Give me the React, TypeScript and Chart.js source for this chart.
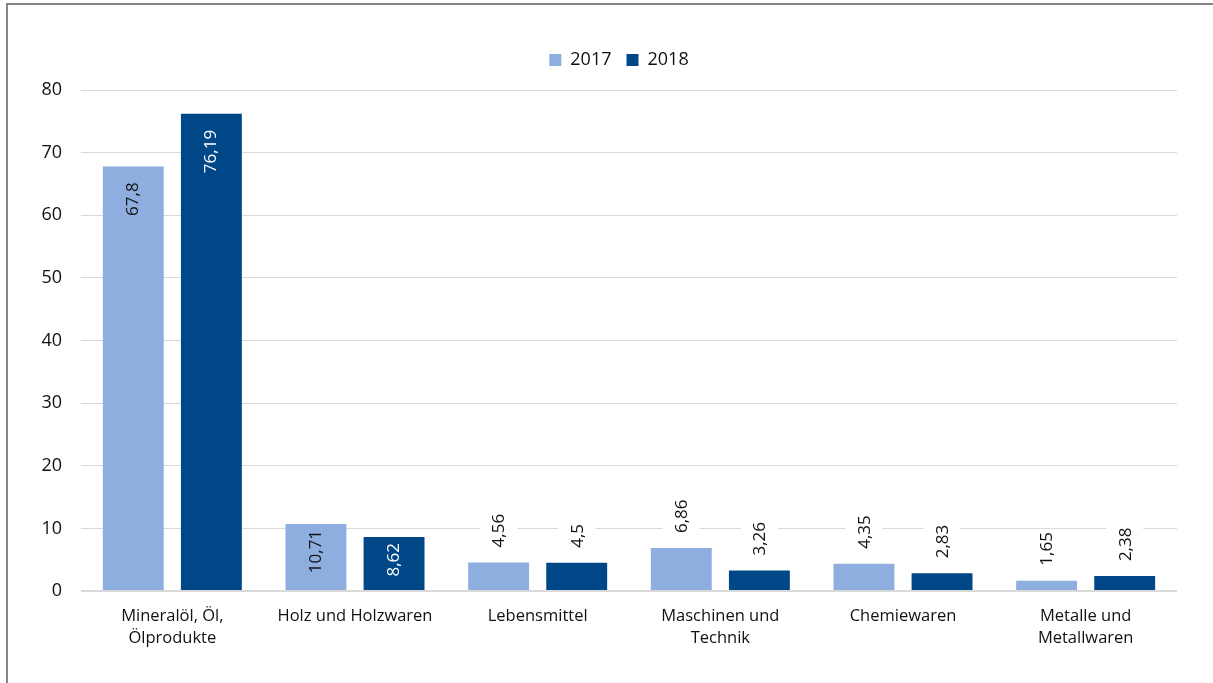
import React, { useEffect, useRef } from 'react';
import { Chart, registerables } from 'chart.js';

Chart.register(...registerables);

const categories: (string | string[])[] = [
  ['Mineralöl, Öl,', 'Ölprodukte'],
  'Holz und Holzwaren',
  'Lebensmittel',
  ['Maschinen und', 'Technik'],
  'Chemiewaren',
  ['Metalle und', 'Metallwaren'],
];
const seriesNames = ['2017', '2018'];
const values2017 = [67.8, 10.71, 4.56, 6.86, 4.35, 1.65];
const values2018 = [76.19, 8.62, 4.5, 3.26, 2.83, 2.38];
const yMin = 0;
const yMax = 80;
const yStep = 10;

const COLOR_2017 = '#8EAEE0';
const COLOR_2018 = '#004788';
const FONT = '"Open Sans", "Noto Sans", sans-serif';

const legendSpacing = {
  id: 'legendSpacing',
  beforeInit(chart: any) {
    const legend = chart.legend;
    if (!legend) return;
    const orig = legend.fit;
    legend.fit = function () {
      orig.call(this);
      this.height = 54;
    };
  },
  afterLayout(chart: any) {
    const legend = chart.legend;
    if (!legend) return;
    legend.left += 18;
    legend.right += 18;
  },
};

const barLabels = {
  id: 'barLabels',
  afterDatasetsDraw(chart: any) {
    const ctx = chart.ctx as CanvasRenderingContext2D;
    const fs = 17;
    chart.data.datasets.forEach((ds: any, di: number) => {
      const meta = chart.getDatasetMeta(di);
      meta.data.forEach((bar: any, i: number) => {
        const v = ds.data[i] as number;
        const text = String(v).replace('.', ',');
        const { x, y, base } = bar.getProps(['x', 'y', 'base'], true);
        const h = base - y;
        ctx.save();
        ctx.font = `${fs}px ${FONT}`;
        const w = ctx.measureText(text).width;
        ctx.textBaseline = 'middle';
        if (h > w + 14) {
          const pad = h > 150 ? 16 : 6;
          ctx.translate(x, y + pad);
          ctx.rotate(-Math.PI / 2);
          ctx.textAlign = 'right';
          ctx.fillStyle = di === 0 ? '#111111' : '#ffffff';
          ctx.fillText(text, 0, 0);
        } else {
          ctx.translate(x, y - 15);
          ctx.rotate(-Math.PI / 2);
          ctx.textAlign = 'left';
          ctx.fillStyle = '#ffffff';
          ctx.fillRect(-3, -fs / 2 - 10, w + 6, fs + 20);
          ctx.fillStyle = '#111111';
          ctx.fillText(text, 0, 1);
        }
        ctx.restore();
      });
    });
  },
};

export default function App() {
  const canvasRef = useRef<HTMLCanvasElement>(null);

  useEffect(() => {
    if (!canvasRef.current) return;
    const chart = new Chart(canvasRef.current, {
      type: 'bar',
      data: {
        labels: categories,
        datasets: [
          {
            label: seriesNames[0],
            data: values2017,
            backgroundColor: COLOR_2017,
            categoryPercentage: 0.855,
            barPercentage: 0.78,
          },
          {
            label: seriesNames[1],
            data: values2018,
            backgroundColor: COLOR_2018,
            categoryPercentage: 0.855,
            barPercentage: 0.78,
          },
        ],
      },
      options: {
        responsive: false,
        animation: false,
        layout: { padding: { top: 36, left: 25, right: 36, bottom: 0 } },
        plugins: {
          legend: {
            display: true,
            position: 'top',
            labels: {
              boxWidth: 12,
              boxHeight: 12,
              padding: 15,
              color: '#111111',
              font: { family: FONT, size: 18 },
            },
          },
          tooltip: { enabled: false },
        },
        scales: {
          x: {
            grid: { display: false, drawTicks: false },
            border: { display: false },
            ticks: {
              color: '#111111',
              padding: 14,
              maxRotation: 0,
              autoSkip: false,
              font: { family: FONT, size: 16.5, lineHeight: 1.36 },
            },
            afterFit(scale: any) {
              scale.height = 92;
            },
          },
          y: {
            min: yMin,
            max: yMax,
            grid: {
              color: '#d9d9d9',
              drawTicks: false,
              lineWidth: (c: any) => (c.tick && c.tick.value === 0 ? 2 : 1),
            },
            border: { display: false },
            ticks: {
              stepSize: yStep,
              padding: 19,
              color: '#111111',
              font: { family: FONT, size: 18 },
            },
            afterFit(scale: any) {
              scale.width = 56;
            },
          },
        },
      },
      plugins: [legendSpacing, barLabels],
    });
    return () => chart.destroy();
  }, []);

  return (
    <div
      style={{
        position: 'fixed',
        left: 0,
        top: 0,
        width: 1213,
        height: 683,
        overflow: 'hidden',
        background: '#ffffff',
      }}
    >
      <div
        style={{
          position: 'absolute',
          left: 6,
          top: 3,
          width: 1300,
          height: 800,
          borderTop: '2px solid #858585',
          borderLeft: '2px solid #858585',
        }}
      />
      <canvas
        ref={canvasRef}
        width={1213}
        height={683}
        style={{ position: 'absolute', left: 0, top: 0, width: 1213, height: 683 }}
      />
    </div>
  );
}
